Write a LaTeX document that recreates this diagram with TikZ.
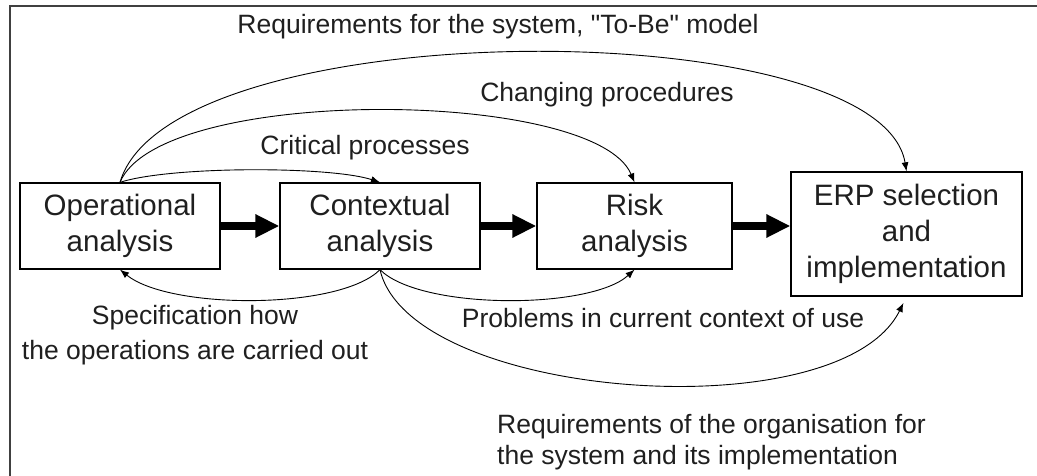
\documentclass[tikz,border=0pt]{standalone}
\usepackage{fontspec}
\setmainfont{Liberation Sans}
\usetikzlibrary{arrows.meta}
\begin{document}
\begin{tikzpicture}[x=1pt,y=-1pt,
  stage/.style={draw, line width=1.3pt, align=center, inner sep=0pt,
    font=\fontsize{29.5}{36}\selectfont, text=black!88},
  lbl/.style={inner sep=0pt, font=\fontsize{26.5}{35}\selectfont, text=black!88},
  bigarrow/.style={line width=8pt, -{Triangle[length=24pt,width=22pt]}},
  flow/.style={line width=0.9pt, -{Latex[length=9pt,width=7pt]}}]
  \useasboundingbox (0,0) rectangle (1037,476);
  \clip (0,0) rectangle (1037,476);
  % outer frame (runs off the right and bottom edges)
  \draw[line width=1.5pt, black!75] (10,6) rectangle (1060,500);

  % the four stages
  \node[stage, minimum width=200pt, minimum height=86pt] (op) at (120,226) {Operational\\analysis};
  \node[stage, minimum width=200pt, minimum height=86pt] (ctx) at (380,226) {Contextual\\analysis};
  \node[stage, minimum width=195pt, minimum height=86pt] (risk) at (634.5,226) {Risk\\analysis};
  \node[stage, minimum width=231pt, minimum height=124pt] (erp) at (906.5,234) {ERP selection\\and\\implementation};

  % main sequence
  \draw[bigarrow] (op) -- (ctx);
  \draw[bigarrow] (ctx) -- (risk);
  \draw[bigarrow] (risk.east) -- (erp.west |- risk.east);

  % feed-forward links above the boxes
  \draw[flow] (op.north) .. controls (170,11) and (880,11) .. (erp.north);
  \draw[flow] (op.north) .. controls (160,85) and (595,88) .. (risk.north);
  \draw[flow] (op.north) .. controls (170,166) and (330,166) .. (ctx.north);

  % links below the boxes
  \draw[flow] (ctx.south) .. controls (340,310) and (170,310) .. (op.south);
  \draw[flow] (ctx.south) .. controls (420,310) and (590,310) .. (risk.south);
  \draw[flow, shorten >=7pt] (ctx.south) .. controls (410,400) and (840,432) .. (erp.south);

  % labels
  \node[lbl] (lreq) at (498,27) {Requirements for the system, \textquotedbl To-Be\textquotedbl\ model};
  \node[lbl] (lchg) at (607,95) {Changing procedures};
  \node[lbl] (lcrit) at (365,148) {Critical processes};
  \node[lbl, align=center] (lspec) at (195,335) {Specification how\\the operations are carried out};
  \node[lbl] (lprob) at (663,318) {Problems in current context of use};
  \node[lbl, align=left, anchor=west, font=\fontsize{26.5}{31}\selectfont] (lorg) at (497,442)
    {Requirements of the organisation for\\the system and its implementation};
\end{tikzpicture}
\end{document}
